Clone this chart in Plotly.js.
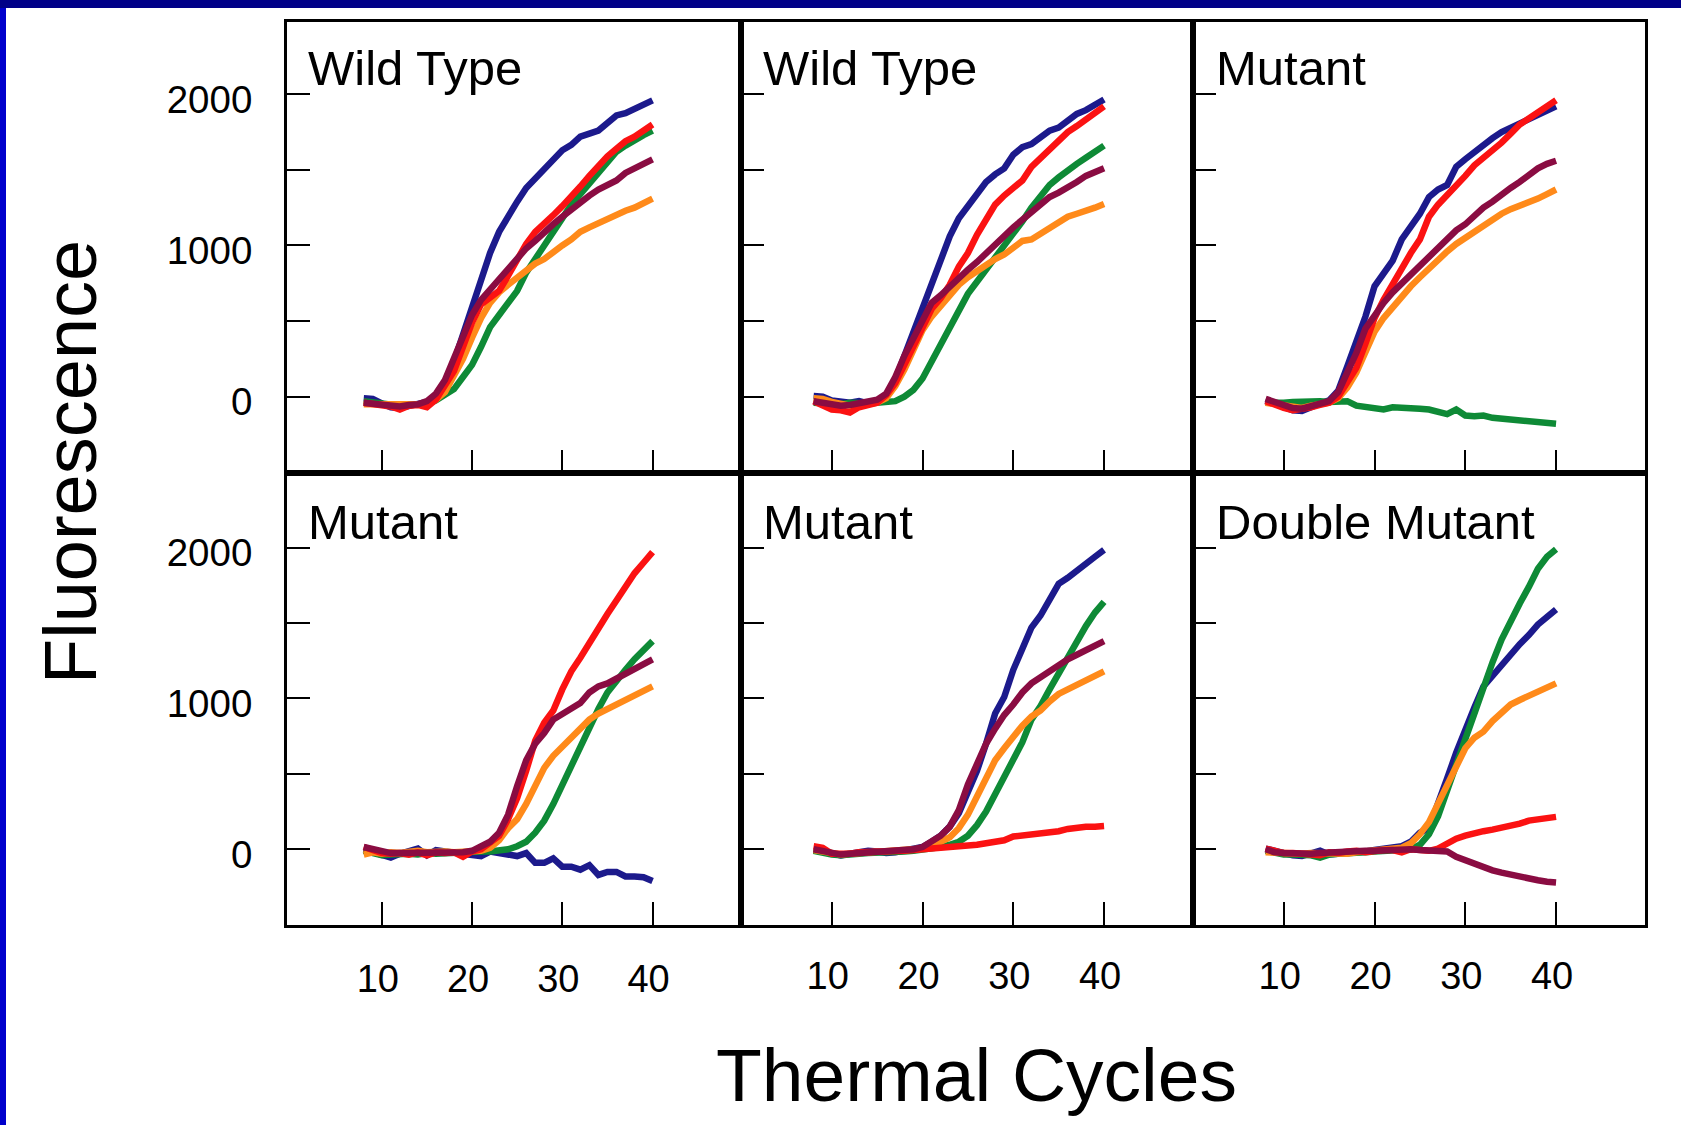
<!DOCTYPE html>
<html>
<head>
<meta charset="utf-8">
<script src="https://cdn.plot.ly/plotly-3.0.1.min.js"></script>
<style>
html,body{margin:0;padding:0;background:#fff;}
#chart{width:1681px;height:1125px;}
</style>
</head>
<body>
<div id="chart"></div>
<script>
// ---------------- DATA ----------------
const cycles = [8,9,10,11,12,13,14,15,16,17,18,19,20,21,22,23,24,25,26,27,28,29,30,31,32,33,34,35,36,37,38,39,40];

const panelTitles = ["Wild Type", "Wild Type", "Mutant", "Mutant", "Mutant", "Double Mutant"];
const yTickVals = [0, 500, 1000, 1500, 2000];
const yTickText = ["0", "", "1000", "", "2000"];
const xTickVals = [10, 20, 30, 40];
const xTickText = ["10", "20", "30", "40"];
const yAxisTitle = "Fluorescence";
const xAxisTitle = "Thermal Cycles";

// Panel 1 : Wild Type
const p1Blue   = [-10,-15,-45,-70,-75,-65,-55,-35,0,70,230,410,600,790,950,1090,1200,1290,1380,1440,1500,1570,1630,1665,1720,1740,1760,1810,1860,1875,1900,1925,1960];
const p1Red    = [-40,-45,-55,-65,-85,-60,-55,-70,-20,80,170,330,490,610,660,700,800,910,1010,1090,1140,1200,1260,1320,1390,1460,1530,1590,1640,1690,1720,1760,1800];
const p1Green  = [-30,-40,-50,-50,-60,-55,-55,-50,-25,10,50,130,210,330,460,540,620,700,820,920,1000,1090,1180,1270,1340,1410,1490,1560,1620,1660,1700,1730,1760];
const p1Orange = [-50,-50,-55,-55,-60,-55,-50,-45,-20,30,130,250,390,520,620,690,740,790,840,880,910,960,1000,1040,1090,1120,1150,1180,1210,1230,1250,1280,1310];
const p1Maroon = [-40,-45,-50,-60,-65,-55,-50,-30,20,110,260,410,540,640,710,770,850,920,980,1030,1090,1140,1190,1240,1290,1330,1370,1400,1430,1480,1510,1540,1570];

// Panel 2 : Wild Type
const p2Blue   = [5,0,-25,-35,-40,-30,-45,-30,0,110,270,420,590,760,910,1060,1180,1260,1350,1420,1470,1510,1600,1650,1670,1720,1760,1780,1830,1870,1895,1930,1965];
const p2Red    = [-30,-60,-85,-90,-105,-70,-60,-40,10,90,210,330,470,580,650,740,860,950,1070,1180,1270,1330,1380,1430,1520,1580,1630,1690,1750,1790,1830,1880,1920];
const p2Green  = [-40,-45,-50,-50,-40,-45,-45,-40,-40,-30,0,45,120,230,330,440,560,680,760,840,920,990,1080,1160,1250,1330,1400,1450,1500,1540,1580,1620,1660];
const p2Orange = [-10,-15,-35,-50,-60,-55,-45,-40,-10,70,180,310,440,530,600,660,740,790,830,880,910,940,990,1030,1040,1080,1120,1160,1190,1210,1225,1250,1275];
const p2Maroon = [-30,-40,-50,-60,-55,-45,-40,-20,20,130,270,380,510,620,670,730,790,840,890,950,1010,1070,1120,1170,1220,1270,1320,1350,1380,1420,1460,1490,1510];

// Panel 3 : Mutant
const p3Blue   = [-25,-45,-75,-90,-95,-65,-45,-25,40,200,360,530,730,820,900,1040,1130,1210,1320,1370,1400,1520,1570,1620,1670,1710,1750,1780,1800,1830,1860,1890,1920];
const p3Red    = [-30,-55,-75,-90,-85,-70,-55,-40,0,90,190,350,520,640,750,860,950,1040,1190,1270,1330,1400,1460,1530,1580,1620,1680,1740,1800,1840,1880,1930,1960];
const p3Green  = [-40,-45,-40,-35,-30,-30,-30,-35,-30,-30,-60,-65,-75,-85,-70,-70,-80,-80,-85,-100,-115,-85,-125,-130,-125,-140,-145,-145,-160,-165,-165,-170,-180];
const p3Orange = [-40,-50,-60,-70,-75,-60,-50,-40,-10,60,160,300,430,520,590,670,730,790,850,910,960,1010,1050,1100,1140,1180,1210,1240,1260,1290,1310,1340,1370];
const p3Maroon = [-15,-35,-60,-75,-80,-60,-45,-30,30,150,290,450,540,620,690,750,800,860,920,980,1040,1100,1140,1200,1250,1290,1340,1380,1420,1470,1510,1540,1560];

// Panel 4 : Mutant
const p4Blue   = [0,-20,-35,-55,-30,-15,5,-40,-5,-15,-25,-35,-35,-45,-15,-25,-35,-45,-25,-90,-90,-60,-115,-115,-135,-105,-170,-150,-150,-180,-180,-185,-210];
const p4Red    = [15,-10,-25,-30,-25,-35,-20,-40,-20,-25,-20,-50,-15,0,40,90,200,340,520,720,840,920,1060,1180,1270,1370,1480,1560,1650,1740,1830,1900,1970];
const p4Green  = [-10,-25,-40,-35,-30,-30,-35,-25,-30,-25,-20,-20,-20,-15,-15,-10,0,20,50,110,190,300,430,540,680,800,930,1040,1120,1190,1260,1320,1380];
const p4Orange = [-35,-20,-30,-20,-25,-15,-10,-20,-15,-15,-20,-20,-15,-10,10,60,140,200,300,420,540,620,680,740,800,860,900,930,970,1000,1030,1060,1080];
const p4Maroon = [15,0,-20,-25,-25,-25,-25,-25,-20,-20,-20,-20,-10,15,50,110,230,420,590,700,770,860,900,940,970,1040,1080,1100,1130,1170,1200,1230,1260];

// Panel 5 : Mutant
const p5Blue   = [0,-10,-30,-40,-30,-20,-10,-15,-25,-20,-10,0,15,50,90,150,240,380,520,700,900,1010,1190,1330,1470,1550,1650,1760,1800,1850,1890,1940,1985];
const p5Red    = [20,10,-30,-35,-30,-20,-20,-20,-15,-10,-10,-5,0,0,5,5,10,20,30,40,45,60,85,90,100,110,115,120,135,145,150,150,155];
const p5Green  = [-10,-25,-35,-40,-30,-30,-25,-25,-20,-20,-15,-10,-5,5,15,30,50,90,160,250,360,480,590,710,860,950,1060,1170,1280,1380,1480,1570,1640];
const p5Orange = [-5,-15,-30,-35,-30,-25,-20,-20,-15,-10,-10,-5,5,20,45,80,140,230,350,470,590,670,750,820,880,920,980,1030,1060,1090,1120,1150,1180];
const p5Maroon = [0,-10,-30,-35,-30,-25,-20,-20,-15,-10,-10,0,15,50,90,150,260,430,560,700,800,890,960,1040,1100,1140,1190,1220,1260,1290,1320,1350,1380];

// Panel 6 : Double Mutant
const p6Blue   = [5,-10,-30,-40,-45,-30,-10,-35,-30,-35,-25,-15,-5,0,10,20,50,110,140,320,470,640,800,940,1080,1150,1220,1300,1360,1420,1490,1540,1590];
const p6Red    = [5,-15,-25,-25,-30,-35,-40,-20,-25,-15,-10,-20,-10,-5,-5,-20,0,-5,-10,5,40,70,90,110,120,130,140,150,170,190,195,200,215];
const p6Green  = [-10,-25,-35,-35,-35,-40,-55,-35,-30,-30,-25,-20,-15,-10,-5,0,0,30,100,220,380,560,730,900,1080,1240,1390,1520,1630,1740,1860,1940,1990];
const p6Orange = [-20,-25,-30,-30,-30,-25,-25,-30,-35,-30,-20,-15,-10,-5,0,10,40,100,180,300,440,560,670,740,780,850,910,960,990,1020,1050,1080,1100];
const p6Maroon = [0,-20,-25,-30,-30,-30,-25,-20,-20,-15,-15,-10,-10,-5,-5,0,0,-5,-10,-15,-15,-50,-75,-100,-120,-140,-155,-170,-185,-195,-205,-215,-220];

// ---------------- STYLE ----------------
const W = 1681, H = 1125;
const FONT = '"Liberation Sans", Arial, Helvetica, sans-serif';
const colors = { blue: "#1c1a8c", green: "#0e8a36", orange: "#ff8a1a", red: "#fb1212", maroon: "#8a0c42" };

const panels = [
  { blue: p1Blue, green: p1Green, orange: p1Orange, red: p1Red, maroon: p1Maroon },
  { blue: p2Blue, green: p2Green, orange: p2Orange, red: p2Red, maroon: p2Maroon },
  { blue: p3Blue, green: p3Green, orange: p3Orange, red: p3Red, maroon: p3Maroon },
  { blue: p4Blue, green: p4Green, orange: p4Orange, red: p4Red, maroon: p4Maroon },
  { blue: p5Blue, green: p5Green, orange: p5Orange, red: p5Red, maroon: p5Maroon },
  { blue: p6Blue, green: p6Green, orange: p6Orange, red: p6Red, maroon: p6Maroon }
];
const drawOrder = ["blue", "green", "orange", "red", "maroon"];

// pixel geometry of panel frames
const colPx = [[287, 741], [741, 1193], [1193, 1645]];
const rowPx = [[22, 473], [473, 925]];
const xRanges = [[-0.5, 49.8], [0, 49.8], [0, 49.8]];
const yRanges = [[-505, 2478], [-502, 2495]];
const xLabelStandoff = [18, 15, 15];
const titleX = [306, 761, 1214];
const titleY = [68, 522];

const traces = [];
const layout = {
  width: W, height: H,
  margin: { l: 0, r: 0, t: 0, b: 0, pad: 0 },
  paper_bgcolor: "#ffffff", plot_bgcolor: "#ffffff",
  showlegend: false,
  font: { family: FONT, color: "#000" },
  shapes: [
    { type: "rect", xref: "paper", yref: "paper", x0: 0, x1: 1, y0: 1 - 8 / H, y1: 1, fillcolor: "#000088", line: { width: 0 }, layer: "above" },
    { type: "rect", xref: "paper", yref: "paper", x0: 0, x1: 6 / W, y0: 0, y1: 1 - 8 / H, fillcolor: "#0000cc", line: { width: 0 }, layer: "above" }
  ],
  annotations: []
};

for (let i = 0; i < 6; i++) {
  const row = Math.floor(i / 3), col = i % 3;
  const n = i + 1;
  const xa = "xaxis" + (n === 1 ? "" : n), ya = "yaxis" + (n === 1 ? "" : n);
  const xr = "x" + (n === 1 ? "" : n), yr = "y" + (n === 1 ? "" : n);
  layout[xa] = {
    domain: [colPx[col][0] / W, colPx[col][1] / W],
    range: xRanges[col], anchor: yr,
    showgrid: false, zeroline: false,
    showline: true, mirror: true, linecolor: "#000", linewidth: 3,
    ticks: "inside", ticklen: 23, tickwidth: 2, tickcolor: "#000",
    tickvals: xTickVals, ticktext: xTickText,
    showticklabels: row === 1,
    ticklabelstandoff: xLabelStandoff[col], ticklabelshift: -4,
    tickfont: { family: FONT, size: 38, color: "#000" },
    fixedrange: true
  };
  layout[ya] = {
    domain: [1 - rowPx[row][1] / H, 1 - rowPx[row][0] / H],
    range: yRanges[row], anchor: xr,
    showgrid: false, zeroline: false,
    showline: true, mirror: true, linecolor: "#000", linewidth: 3,
    ticks: "inside", ticklen: 23, tickwidth: 2, tickcolor: "#000",
    tickvals: yTickVals, ticktext: yTickText,
    showticklabels: col === 0,
    ticklabelstandoff: 24, ticklabelshift: 5,
    tickfont: { family: FONT, size: 38.5, color: "#000" },
    fixedrange: true
  };
  drawOrder.forEach(k => {
    traces.push({
      type: "scatter", mode: "lines",
      x: cycles, y: panels[i][k],
      xaxis: xr, yaxis: yr,
      line: { color: colors[k], width: 6.5, shape: "linear" },
      hoverinfo: "skip"
    });
  });
  layout.annotations.push({
    xref: "paper", yref: "paper",
    x: titleX[col] / W, y: 1 - titleY[row] / H,
    xanchor: "left", yanchor: "middle",
    text: panelTitles[i], showarrow: false,
    font: { family: FONT, size: 49, color: "#000" }
  });
}

layout.annotations.push({
  xref: "paper", yref: "paper", x: 70 / W, y: 1 - 462 / H,
  xanchor: "center", yanchor: "middle", textangle: -90,
  text: yAxisTitle, showarrow: false,
  font: { family: FONT, size: 74, color: "#000" }
});
layout.annotations.push({
  xref: "paper", yref: "paper", x: 976 / W, y: 1 - 1075 / H,
  xanchor: "center", yanchor: "middle",
  text: xAxisTitle, showarrow: false,
  font: { family: FONT, size: 75, color: "#000" }
});

Plotly.newPlot("chart", traces, layout, { displayModeBar: false, staticPlot: true });
</script>
</body>
</html>
